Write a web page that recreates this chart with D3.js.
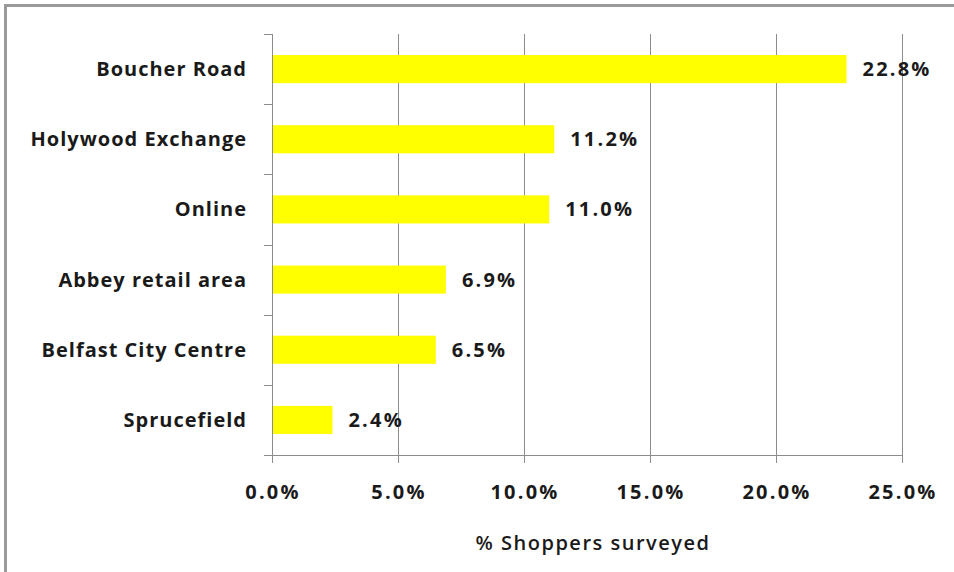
<!DOCTYPE html>
<html><head><meta charset="utf-8">
<script src="https://cdn.jsdelivr.net/npm/d3@7"></script>
<style>body{margin:0;background:#fff;} svg{display:block;}</style>
</head><body>
<svg id="c" width="954" height="572"></svg>
<script>
const categories = ["Boucher Road","Holywood Exchange","Online","Abbey retail area","Belfast City Centre","Sprucefield"];
const values = [22.8, 11.2, 11.0, 6.9, 6.5, 2.4];
const xTicks = [0, 5, 10, 15, 20, 25];
const xTitle = "% Shoppers surveyed";

const svg = d3.select("#c");
const font = "'Open Sans', sans-serif";
const L = 272, R = 902, T = 34, B = 455;

svg.append("rect").attr("x",5.5).attr("y",5.5).attr("width",1000).attr("height",1000)
  .attr("fill","none").attr("stroke","#9a9a9a").attr("stroke-width",3);

const x = d3.scaleLinear().domain([0,25]).range([L,R]);
const y = d3.scaleBand().domain(categories).range([T,B]).paddingInner(0.6).paddingOuter(0.3);

// gridlines
svg.append("g").selectAll("line").data(xTicks.slice(1)).join("line")
  .attr("x1",d=>x(d)+0.5).attr("x2",d=>x(d)+0.5).attr("y1",T).attr("y2",B+8)
  .attr("stroke","#8c8c8c").attr("stroke-width",1);

// bars
svg.append("g").selectAll("rect").data(values).join("rect")
  .attr("x",L).attr("y",(d,i)=>y(categories[i]))
  .attr("width",d=>x(d)-L).attr("height",y.bandwidth())
  .attr("fill","#ffff00");

// left axis with ticks between categories
const bandStep = (B-T)/categories.length;
const yEdges = d3.range(categories.length+1).map(i=>T+i*bandStep);
const ga = svg.append("g");
ga.append("line").attr("x1",L+0.5).attr("x2",L+0.5).attr("y1",T).attr("y2",B+8).attr("stroke","#8c8c8c");
ga.selectAll("line.t").data(yEdges).join("line").attr("class","t")
  .attr("x1",L-8).attr("x2",L).attr("y1",d=>Math.round(d)+0.5).attr("y2",d=>Math.round(d)+0.5).attr("stroke","#8c8c8c");
ga.append("line").attr("x1",L-8).attr("x2",R+1).attr("y1",B+0.5).attr("y2",B+0.5).attr("stroke","#8c8c8c");

// category labels
svg.append("g").selectAll("text").data(categories).join("text")
  .attr("x",247).attr("y",d=>y(d)+y.bandwidth()/2).attr("dy","0.35em")
  .attr("text-anchor","end").attr("font-family",font).attr("font-weight",700).attr("letter-spacing",1)
  .attr("font-size",20).attr("fill","#1a1a1a").text(d=>d);

// value labels
svg.append("g").selectAll("text").data(values).join("text")
  .attr("x",d=>x(d)+16).attr("y",(d,i)=>y(categories[i])+y.bandwidth()/2).attr("dy","0.35em")
  .attr("font-family",font).attr("font-weight",700).attr("letter-spacing",2.2)
  .attr("font-size",20).attr("fill","#1a1a1a").text(d=>d.toFixed(1)+"%");

// x tick labels
svg.append("g").selectAll("text").data(xTicks).join("text")
  .attr("x",d=>x(d)+1).attr("y",492).attr("dy","0.35em")
  .attr("text-anchor","middle").attr("font-family",font).attr("font-weight",700).attr("letter-spacing",2.2)
  .attr("font-size",20).attr("fill","#1a1a1a").text(d=>d.toFixed(1)+"%");

// x title
svg.append("text").attr("x",593).attr("y",543).attr("dy","0.35em")
  .attr("text-anchor","middle").attr("font-family",font).attr("font-weight",600).attr("letter-spacing",1.5)
  .attr("font-size",20).attr("fill","#1a1a1a").text(xTitle);
</script>
</body></html>
